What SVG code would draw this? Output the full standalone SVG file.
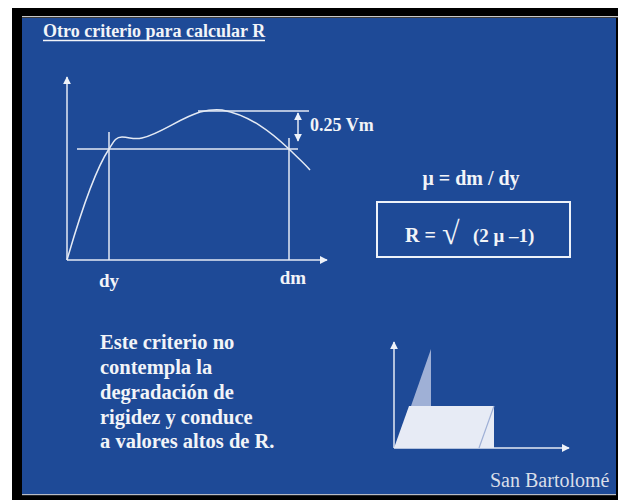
<svg xmlns="http://www.w3.org/2000/svg" width="618" height="500" viewBox="0 0 618 500">
  <defs>
    <marker id="ah" viewBox="0 0 10 10" refX="9" refY="5" markerWidth="8" markerHeight="8" markerUnits="userSpaceOnUse" orient="auto-start-reverse">
      <path d="M0,0 L10,5 L0,10 z" fill="#eef2f9"/>
    </marker>
  </defs>
  <style>
    .t { font-family: "Liberation Serif", "Times New Roman", serif; font-weight: bold; fill: #f2f4f8; }
    .ln { stroke: #e4eaf4; stroke-width: 1.5; fill: none; }
    .ax { stroke: #e4eaf4; stroke-width: 1.5; fill: none; marker-end: url(#ah); }
  </style>
  <!-- frame -->
  <rect x="0" y="0" width="618" height="500" fill="#ffffff"/>
  <rect x="12" y="8" width="606" height="492" fill="#000000"/>
  <rect x="22" y="16" width="596" height="1.3" fill="#c8c8c8"/>
  <rect x="22" y="18" width="594" height="476" fill="#1e4a97"/>
  <rect x="22" y="494" width="594" height="1.2" fill="#b8bcc6"/>

  <g id="title">
    <text class="t" x="43" y="37" font-size="18">Otro criterio para calcular R</text>
    <line x1="43" y1="40.5" x2="265" y2="40.5" stroke="#f2f4f8" stroke-width="1.4"/>
  </g>

  <g id="graph">
    <line class="ln" x1="77" y1="149" x2="298" y2="149"/>
    <line class="ln" x1="198" y1="111" x2="309" y2="111"/>
    <line class="ln" x1="109" y1="132" x2="109" y2="260"/>
    <line class="ln" x1="289" y1="138" x2="289" y2="260"/>
    <path class="ln" d="M67,260 C80,215 95,170 109,149 C113,143 115,137 122,137 C130,137 133,140 142,138 C160,134 180,118 200,112 C208,110 215,109 222,110 C250,115 272,133 289,149 C298,158 305,164 310,170"/>
    <text class="t" x="109" y="287" font-size="19" text-anchor="middle">dy</text>
    <text class="t" x="293" y="284" font-size="19" text-anchor="middle">dm</text>
    <text class="t" x="310" y="131" font-size="18">0.25 Vm</text>
  </g>

  <g id="connectors">
    <line class="ax" x1="67" y1="260" x2="67" y2="77"/>
    <line class="ax" x1="67" y1="260" x2="327" y2="260"/>
    <line class="ln" x1="298" y1="113" x2="298" y2="141" marker-start="url(#ah)" marker-end="url(#ah)"/>
    <line class="ax" x1="394" y1="448" x2="394" y2="342"/>
    <line class="ax" x1="394" y1="448" x2="569" y2="448"/>
  </g>

  <g id="formula">
    <text class="t" x="471" y="185" font-size="20" text-anchor="middle">μ = dm / dy</text>
    <rect x="377" y="202" width="193" height="55" fill="none" stroke="#eef2f9" stroke-width="2"/>
    <text class="t" x="405" y="242" font-size="20">R =</text>
    <text class="t" x="442" y="244" font-size="32">√</text>
    <text class="t" x="473" y="242" font-size="19">(2 μ –1)</text>
  </g>

  <g id="note">
    <text class="t" font-size="20.5">
      <tspan x="100" y="349">Este criterio no</tspan>
      <tspan x="100" y="374">contempla la</tspan>
      <tspan x="100" y="399">degradación de</tspan>
      <tspan x="100" y="424">rigidez y conduce</tspan>
      <tspan x="100" y="448">a valores altos de R.</tspan>
    </text>
  </g>

  <g id="sketch">
    <polygon points="431,349 431,406 411,406" fill="#9fb0d6"/>
    <polygon points="394,448 409,406 494,406 494,448" fill="#e7ebf5"/>
    <line x1="494" y1="406" x2="479" y2="448" stroke="#9fb0d6" stroke-width="1.2"/>
  </g>

  <g id="credit">
    <text x="490" y="487" font-size="20" font-family="'Liberation Serif', 'Times New Roman', serif" fill="#d9dee9">San Bartolomé</text>
  </g>
</svg>
